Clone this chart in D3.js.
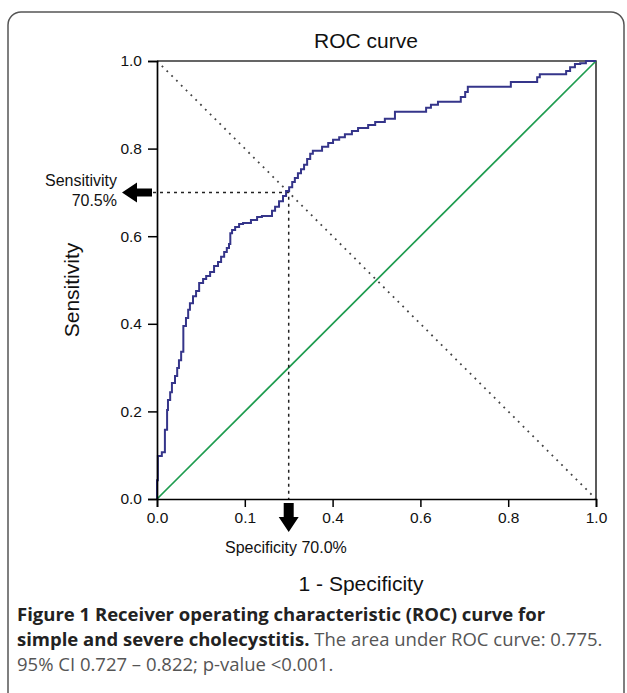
<!DOCTYPE html>
<html>
<head>
<meta charset="utf-8">
<script src="https://cdn.jsdelivr.net/npm/d3@7"></script>
<style>
  body { margin: 0; background: #fff; }
  svg text { font-family: "Liberation Sans", Arial, sans-serif; }
  svg text.caption { font-family: "Open Sans", sans-serif; }
</style>
</head>
<body>
<svg id="chart" width="627" height="693"></svg>
<script>
// ROC curve: plateau right ends (1 - specificity, sensitivity)
const fpr = [0, 0.002, 0.011, 0.018, 0.023, 0.025, 0.030, 0.034, 0.041, 0.046, 0.050, 0.055, 0.060,
  0.066, 0.071, 0.075, 0.082, 0.089, 0.096, 0.105, 0.112, 0.121, 0.130, 0.139, 0.146, 0.153, 0.159,
  0.164, 0.167, 0.171, 0.178, 0.187, 0.196, 0.214, 0.228, 0.239, 0.262, 0.269, 0.278, 0.287, 0.294,
  0.301, 0.308, 0.314, 0.321, 0.328, 0.335, 0.342, 0.349, 0.355, 0.376, 0.390, 0.401, 0.415, 0.428,
  0.444, 0.458, 0.481, 0.497, 0.519, 0.542, 0.613, 0.624, 0.640, 0.692, 0.702, 0.708, 0.806, 0.813,
  0.866, 0.872, 0.932, 0.941, 0.952, 0.964, 0.977, 1.0];
const tpr = [0, 0.043, 0.098, 0.107, 0.158, 0.203, 0.226, 0.244, 0.265, 0.281, 0.299, 0.317, 0.336,
  0.395, 0.413, 0.432, 0.447, 0.463, 0.475, 0.493, 0.502, 0.509, 0.518, 0.532, 0.541, 0.553, 0.564,
  0.573, 0.582, 0.607, 0.614, 0.621, 0.628, 0.630, 0.637, 0.644, 0.646, 0.658, 0.667, 0.680, 0.692,
  0.703, 0.712, 0.724, 0.733, 0.744, 0.753, 0.763, 0.776, 0.788, 0.795, 0.804, 0.813, 0.820, 0.826,
  0.833, 0.840, 0.847, 0.854, 0.861, 0.868, 0.884, 0.893, 0.900, 0.907, 0.918, 0.929, 0.941, 0.952,
  0.952, 0.963, 0.970, 0.977, 0.986, 0.993, 0.995, 1.0];

const xTickValues = [0, 0.2, 0.4, 0.6, 0.8, 1.0];
const xTickLabels = ["0.0", "0.1", "0.4", "0.6", "0.8", "1.0"];
const yTickValues = [0, 0.2, 0.4, 0.6, 0.8, 1.0];
const yTickLabels = ["0.0", "0.2", "0.4", "0.6", "0.8", "1.0"];

const cutFpr = 0.30, cutSens = 0.70;

const svg = d3.select("#chart");
const margin = {top: 61, left: 157},
      width = 439, height = 438;

// frame
svg.append("rect")
   .attr("x", 8).attr("y", 12)
   .attr("width", 616).attr("height", 720)
   .attr("rx", 13)
   .attr("fill", "none").attr("stroke", "#555").attr("stroke-width", 1.5);

const x = d3.scaleLinear().domain([0, 1]).range([0, width]),
      y = d3.scaleLinear().domain([0, 1]).range([height, 0]);

const g = svg.append("g").attr("transform", `translate(${margin.left},${margin.top})`);

// top and right border
g.append("path")
  .attr("d", `M0,0H${width}V${height}`)
  .attr("fill", "none").attr("stroke", "#333").attr("stroke-width", 1.6);

// reference diagonals
g.append("line")
  .attr("x1", x(0)).attr("y1", y(1)).attr("x2", x(1)).attr("y2", y(0))
  .attr("stroke", "#444").attr("stroke-width", 1.8).attr("stroke-dasharray", "1.8,5");

g.append("line")
  .attr("x1", x(0)).attr("y1", y(0)).attr("x2", x(1)).attr("y2", y(1))
  .attr("stroke", "#1e9c4f").attr("stroke-width", 1.7);

// cut-off crosshair
g.append("path")
  .attr("d", `M${-4},${y(cutSens)}H${x(cutFpr)}V${height}`)
  .attr("fill", "none").attr("stroke", "#222").attr("stroke-width", 1.5)
  .attr("stroke-dasharray", "3,4");

// ROC curve
const line = d3.line()
  .x(d => x(d[0])).y(d => y(d[1]))
  .curve(d3.curveStepBefore);

g.append("path")
  .datum(d3.zip(fpr, tpr))
  .attr("d", line)
  .attr("fill", "none").attr("stroke", "#35358a").attr("stroke-width", 2);

// axes
g.append("g")
  .attr("class", "axis axis-x")
  .attr("transform", `translate(0,${height})`)
  .call(d3.axisBottom(x).tickValues(xTickValues).tickSize(8).tickPadding(5)
    .tickFormat((d, i) => xTickLabels[i]));

g.append("g")
  .attr("class", "axis axis-y")
  .call(d3.axisLeft(y).tickValues(yTickValues).tickSize(9).tickPadding(6)
    .tickFormat((d, i) => yTickLabels[i]));

g.selectAll(".axis path.domain").attr("stroke", "#000").attr("stroke-width", 1.7);
g.selectAll(".axis .tick line").attr("stroke", "#000").attr("stroke-width", 1.5);
g.selectAll(".axis text").style("font-size", "15.5px").attr("fill", "#111");

// title and axis labels
svg.append("text")
  .attr("x", 366).attr("y", 48).attr("text-anchor", "middle")
  .style("font-size", "21px").attr("fill", "#111").text("ROC curve");

svg.append("text")
  .attr("x", 361).attr("y", 591).attr("text-anchor", "middle")
  .style("font-size", "21px").attr("fill", "#111").text("1 - Specificity");

svg.append("text")
  .attr("transform", "translate(79,290) rotate(-90)")
  .attr("text-anchor", "middle")
  .style("font-size", "21px").attr("fill", "#111").text("Sensitivity");

// annotation labels
svg.append("text")
  .attr("x", 117).attr("y", 186).attr("text-anchor", "end")
  .style("font-size", "16px").attr("fill", "#111").text("Sensitivity");
svg.append("text")
  .attr("x", 117).attr("y", 206).attr("text-anchor", "end")
  .style("font-size", "16px").attr("fill", "#111").text("70.5%");
svg.append("text")
  .attr("x", 225).attr("y", 553)
  .style("font-size", "16px").attr("fill", "#111").text("Specificity 70.0%");

// arrows
const ay = margin.top + y(cutSens);
svg.append("path")
  .attr("d", `M122,${ay}L137,${ay - 10}V${ay - 4}H152V${ay + 4}H137V${ay + 10}Z`)
  .attr("fill", "#000");
const ax = margin.left + x(cutFpr);
svg.append("path")
  .attr("d", `M${ax},532L${ax - 10},517H${ax - 5}V503H${ax + 5}V517H${ax + 10}Z`)
  .attr("fill", "#000");

// caption
const l1 = svg.append("text").attr("class", "caption").attr("x", 17).attr("y", 621)
  .style("font-size", "18.5px");
l1.append("tspan").attr("font-weight", "bold").attr("fill", "#222")
  .text("Figure 1 Receiver operating characteristic (ROC) curve for");
const l2 = svg.append("text").attr("class", "caption").attr("x", 17).attr("y", 646)
  .style("font-size", "18.5px");
l2.append("tspan").attr("font-weight", "bold").attr("fill", "#222")
  .text("simple and severe cholecystitis.");
l2.append("tspan").attr("fill", "#555").text(" The area under ROC curve: 0.775.");
svg.append("text").attr("class", "caption").attr("x", 17).attr("y", 671)
  .style("font-size", "18.5px").attr("fill", "#555")
  .text("95% CI 0.727 \u2013 0.822; p-value <0.001.");
</script>
</body>
</html>
